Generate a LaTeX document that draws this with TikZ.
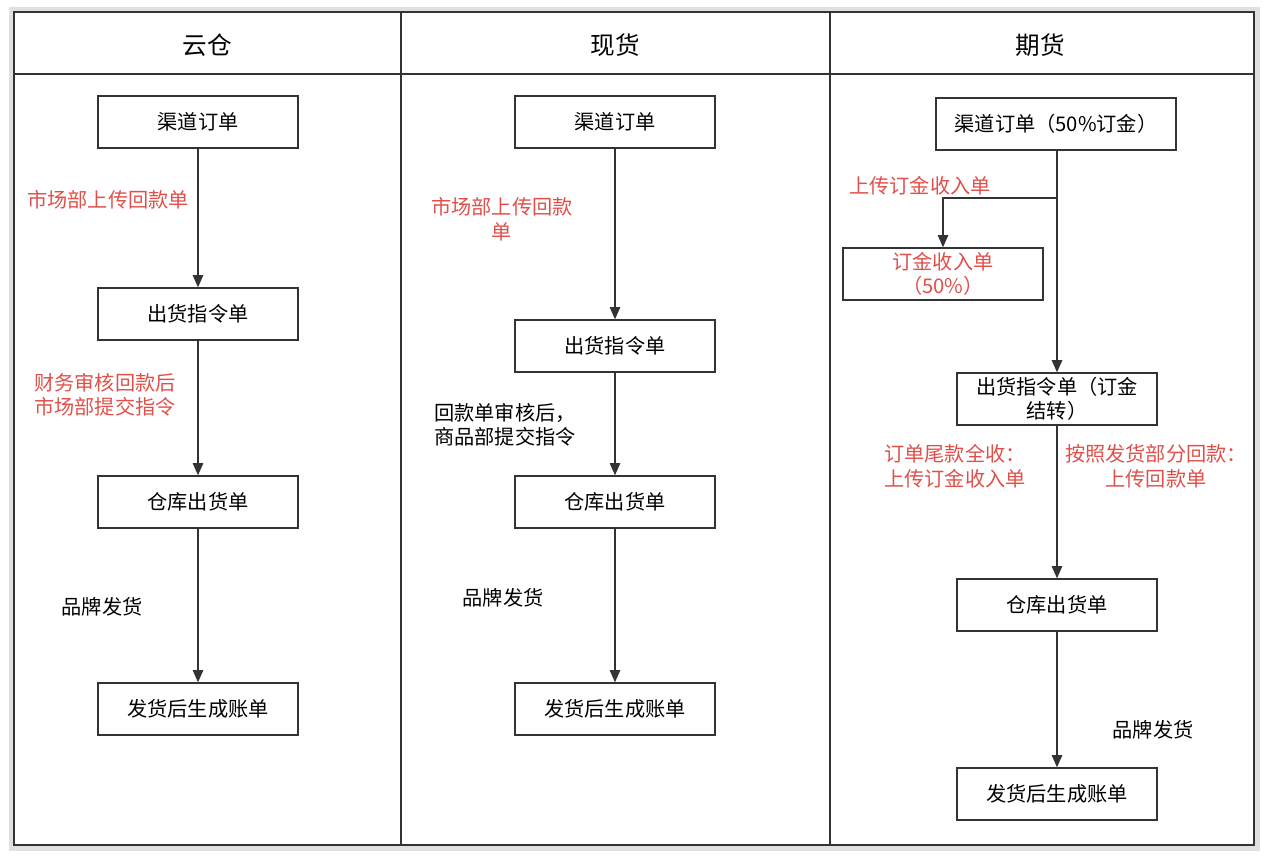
\documentclass[tikz,border=0pt]{standalone}
\usepackage{fontspec}
\setmainfont{Noto Sans CJK SC}
\usetikzlibrary{arrows.meta, positioning}
\usepackage{xcolor}
\definecolor{linered}{HTML}{E0504A}
\definecolor{linedark}{HTML}{333333}

\begin{document}
\begin{tikzpicture}[
x=0.02cm, y=-0.02cm,
box/.style={draw=linedark, thick, rectangle, inner ysep=1pt,
minimum width=4cm, 
minimum height=1.04cm, align=center, font=\fontsize{11.5}{13.5}\selectfont},
arrow/.style={-{Triangle[length=7pt, width=6pt]}, thick, linedark},
note/.style={font=\fontsize{11.5}{14}\selectfont},
rednote/.style={note, text=linered},
head/.style={font=\fontsize{14}{16}\selectfont}
]

\useasboundingbox (0,0) rectangle (1268,858);
\draw[line width=3pt, black!12] (12,10) rectangle (1257,848);
\draw[line width=1.3pt, linedark] (14,12) rectangle (1254,845);
\draw[line width=1.3pt, linedark] (14,74) -- (1254,74);
\draw[line width=1.3pt, linedark] (401,12) -- (401,845);
\draw[line width=1.3pt, linedark] (830,12) -- (830,845);

\node[head] (hYun) at (207,45) {云仓};
\node[head] (hXian) at (615,45) {现货};
\node[head] (hQi) at (1040,45) {期货};

% 云仓
\node[box] (y0) at (198,122) {渠道订单};
\node[box] (y1) at (198,314) {出货指令单};
\node[box] (y2) at (198,502) {仓库出货单};
\node[box] (y3) at (198,709) {发货后生成账单};
\draw[arrow] (y0) -- (y1);
\draw[arrow] (y1) -- (y2);
\draw[arrow] (y2) -- (y3);
\node[rednote] (ya) at (108,200) {市场部上传回款单};
\node[rednote, align=left, anchor=west] (yb) at (28,395) {财务审核回款后\\市场部提交指令};
\node[note] (yc) at (102,607) {品牌发货};

% 现货
\node[box] (x0) at (615,122) {渠道订单};
\node[box] (x1) at (615,346) {出货指令单};
\node[box] (x2) at (615,502) {仓库出货单};
\node[box] (x3) at (615,709) {发货后生成账单};
\draw[arrow] (x0) -- (x1);
\draw[arrow] (x1) -- (x2);
\draw[arrow] (x2) -- (x3);
\node[rednote, align=center] (xa) at (502,219) {市场部上传回款\\单};
\node[note, align=left, anchor=west] (xb) at (428,425) {回款单审核后，\\商品部提交指令};
\node[note] (xc) at (503,598) {品牌发货};

% 期货
\node[box, minimum width=4.8cm] (q0) at (1056,124) {渠道订单（50\%订金）};
\node[box, text=linered] (qd) at (943,274) {订金收入单\\（50\%）};
\node[box] (q1) at (1057,399) {出货指令单（订金\\结转）};
\node[box] (q2) at (1057,605) {仓库出货单};
\node[box] (q3) at (1057,794) {发货后生成账单};
\coordinate (qsplit) at (1057,198);
\draw[thick, linedark] (q0.south -| qsplit) -- (qsplit);
\draw[arrow] (qsplit) -| (qd.north);
\draw[arrow] (qsplit) -- (q1);
\draw[arrow] (q1) -- (q2);
\draw[arrow] (q2) -- (q3);
\node[rednote] (qa) at (920,186) {上传订金收入单};
\node[rednote, align=center] (qb) at (955,466) {订单尾款全收：\\上传订金收入单};
\node[rednote, align=center] (qc) at (1156,466) {按照发货部分回款：\\上传回款单};
\node[note] (qe) at (1153,730) {品牌发货};

\end{tikzpicture}
\end{document}
